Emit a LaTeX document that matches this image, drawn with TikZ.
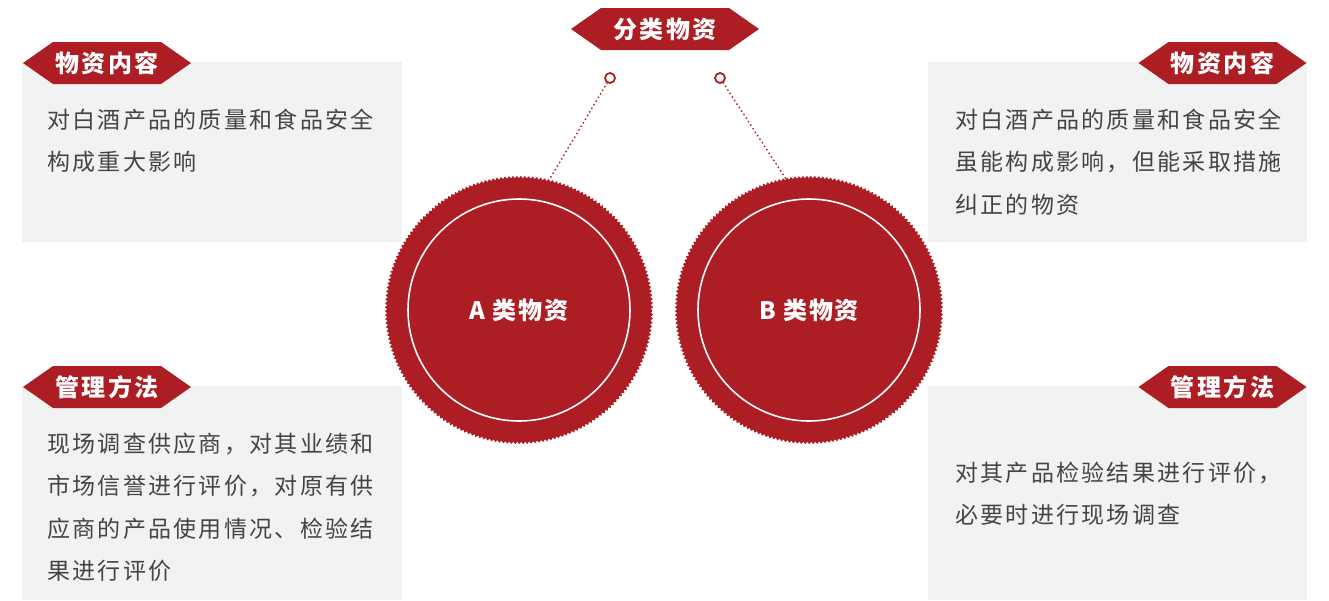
\documentclass[tikz,border=0pt]{standalone}
\usepackage{fontspec}
\setmainfont{Noto Sans CJK SC}
\usetikzlibrary{shapes.symbols,decorations.pathmorphing}

\definecolor{winered}{HTML}{AD1D24}
\definecolor{panelgray}{HTML}{F1F2F2}
\definecolor{bodygray}{HTML}{444444}

\tikzset{
  banner/.style={signal, signal to=west and east, signal pointer angle=70,
    fill=winered, text=white, minimum height=42, minimum width=168, inner sep=0,
    font=\fontsize{24}{24}\selectfont\bfseries\addfontfeatures{LetterSpace=10}},
  panel/.style={fill=panelgray},
  bodytext/.style={anchor=base west, text width=360, align=left, inner sep=0,
    text=bodygray, font=\fontsize{23}{42.5}\selectfont\addfontfeatures{LetterSpace=10}},
  catcircle/.style={circle, fill=winered, minimum size=266, inner sep=0,
    text=white, font=\fontsize{24}{24}\selectfont\bfseries\addfontfeatures{LetterSpace=8},
    decorate, decoration={zigzag, segment length=4, amplitude=1.2}},
  ring/.style={draw=white, line width=1.6},
  pinring/.style={circle, draw=winered, fill=white, line width=1.8, minimum size=10, inner sep=0},
  dots/.style={draw=winered, line width=2, line cap=round, dash pattern=on 0pt off 4.2pt},
}

\begin{document}
\begin{tikzpicture}[x=1pt,y=-1pt]
   \useasboundingbox (0,0) rectangle (1329,600);

   % 灰色底板
   \fill[panel] (22,62) rectangle (402,242);
   \fill[panel] (22,386) rectangle (402,600);
   \fill[panel] (928,62) rectangle (1307,242);
   \fill[panel] (928,386) rectangle (1307,600);

   % 标题
   \node[banner, minimum width=188] (title) at (665,29) {分类物资};
   \node[banner] (contentL) at (107,63) {物资内容};
   \node[banner] (methodL) at (107,387) {管理方法};
   \node[banner] (contentR) at (1222.5,63) {物资内容};
   \node[banner] (methodR) at (1222.5,387) {管理方法};

   % 正文
   \node[bodytext] (textTL) at (47,128) {对白酒产品的质量和食品安全\\构成重大影响};
   \node[bodytext] (textBL) at (47,452) {现场调查供应商，对其业绩和\\市场信誉进行评价，对原有供\\应商的产品使用情况、检验结\\果进行评价};
   \node[bodytext] (textTR) at (955,128) {对白酒产品的质量和食品安全\\虽能构成影响，但能采取措施\\纠正的物资};
   \node[bodytext] (textBR) at (955,481) {对其产品检验结果进行评价，\\必要时进行现场调查};

   % 圆
   \node[catcircle] (catA) at (519,310) {A 类物资};
   \node[catcircle] (catB) at (809,310) {B 类物资};
   \draw[ring] (catA.center) circle[radius=111pt];
   \draw[ring] (catB.center) circle[radius=111pt];

   % 连线
   \node[pinring] (pinA) at (610,78) {};
   \node[pinring] (pinB) at (720,78) {};
   \draw[dots] (pinA) -- (catA.77);
   \draw[dots] (pinB) -- (catB.100);
\end{tikzpicture}
\end{document}
